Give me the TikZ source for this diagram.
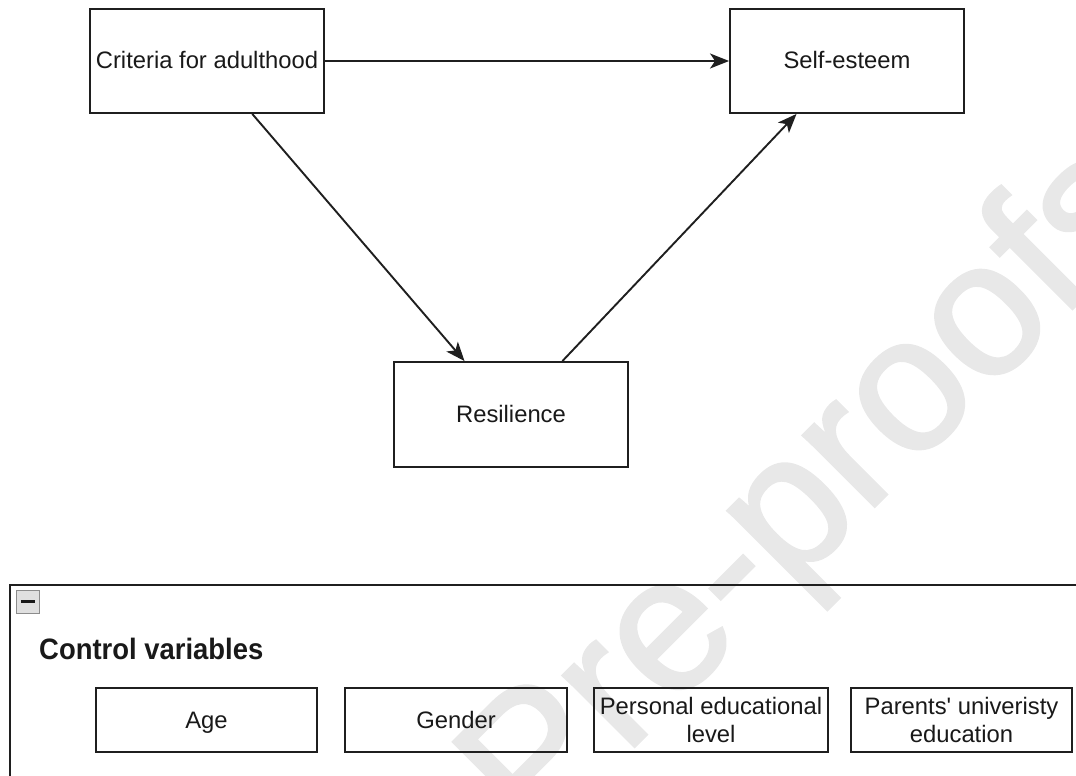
\documentclass[tikz,border=0pt]{standalone}
\usepackage{fontspec}
\setmainfont{Liberation Sans}
\newfontfamily\wmfont[FakeBold=1.5]{Liberation Sans}
\newfontfamily\rawfont{Liberation Sans}
\usetikzlibrary{arrows.meta,calc}
\begin{document}
\begin{tikzpicture}[x=1pt,y=-1pt,
  box/.style={draw=black!88, line width=1.9pt, rectangle, inner sep=0pt,
    minimum width=234pt, minimum height=104pt,
    font=\fontsize{23.8}{27.5}\selectfont, text=black!90, align=center},
  onelinebox/.style={box, text height=16pt, text depth=0pt},
  smallbox/.style={box, minimum height=64pt},
  smallonebox/.style={onelinebox, minimum height=64pt},
  conn/.style={draw=black!88, line width=1.9pt,
    -{Stealth[length=19pt,width=15pt,inset=5pt]}}
]
\useasboundingbox (0,0) rectangle (1076,776);
\clip (0,0) rectangle (1076,776);
% watermark
\node[rotate=45, anchor=base west, text=black!9, inner sep=0pt,
  font=\wmfont\fontsize{191}{191}\selectfont] (wm) at (535,846) {Pre-proofs};
% main model
\node[onelinebox] (crit) at (207,61) {Criteria for adulthood};
\node[onelinebox] (self) at (847,61) {Self-esteem};
\node[onelinebox, minimum height=105pt] (res) at (511,414.5) {Resilience};
\draw[conn] (crit.east) -- (self.west);
\draw[conn] ($(crit.south west)!0.692!(crit.south east)$) -- ($(res.north west)!0.303!(res.north east)$);
\draw[conn] ($(res.north west)!0.718!(res.north east)$) -- ($(self.south west)!0.286!(self.south east)$);
% control variables container
\node[draw=black!88, line width=1.9pt, rectangle, inner sep=0pt, anchor=north west,
  minimum width=1100pt, minimum height=220pt] (ctrl) at (9,584) {};
\node[draw=black!45, fill=black!12, line width=1.5pt, rectangle, inner sep=0pt,
  minimum size=23pt, anchor=north west] (btn) at (15.5,589.5) {};
\draw[line width=3pt, black!90] ($(btn.center)+(-7,0)$) -- ($(btn.center)+(7,0)$);
\node[anchor=base west, inner sep=0pt, text=black!90,
  font=\bfseries\fontsize{29.5}{32}\selectfont] (ttl) at (39,659.5) {\scalebox{0.93}[1]{Control variables}};
\node[smallonebox, minimum width=221pt] (age) at (206.5,720) {Age};
\node[smallonebox, minimum width=222pt] (gender) at (456,720) {Gender};
\node[smallbox] (pers) at (711,720) {Personal educational\\level};
\node[smallbox, minimum width=221pt] (par) at (961.5,720) {Parents{\rawfont'} univeristy\\education};
\end{tikzpicture}
\end{document}
